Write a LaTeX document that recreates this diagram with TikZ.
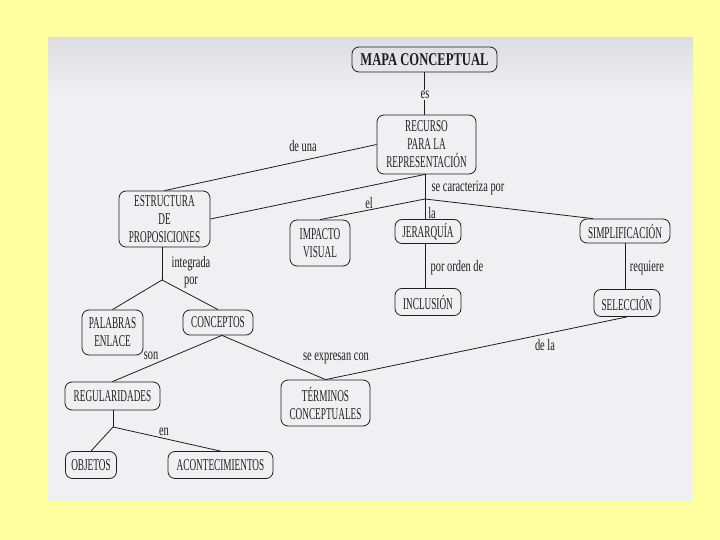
\documentclass[tikz,border=0pt]{standalone}
\usepackage{fontspec}
\setmainfont{Liberation Serif}[FakeStretch=0.56]
\newfontfamily\titlefont{Liberation Serif}[FakeStretch=0.7]
\newfontfamily\lblfont{Liberation Serif}[FakeStretch=0.65]
\usetikzlibrary{calc}
\definecolor{bgyellow}{RGB}{255,255,160}
\definecolor{paper}{RGB}{240,240,243}
\definecolor{papertop}{RGB}{222,222,226}
\definecolor{ink}{RGB}{30,30,30}
\tikzset{
  concept/.style={draw=ink, line width=0.8pt, rounded corners=7pt, align=center,
    inner sep=0pt, font=\fontsize{16.5}{18}\selectfont, text=ink},
  lbl/.style={font=\lblfont\fontsize{16}{17}\selectfont, text=ink, inner sep=1pt, align=center},
  conn/.style={draw=ink, line width=0.8pt},
}
\begin{document}
\begin{tikzpicture}[x=1pt,y=-1pt]
\useasboundingbox (0,0) rectangle (720,540);
\fill[bgyellow] (0,0) rectangle (720,540);
\fill[paper] (48,38) rectangle (693,502);
\shade[top color=papertop, bottom color=paper] (48,38) rectangle (693,95);

% concepts
\node[concept, minimum width=145, minimum height=25, font=\titlefont\fontsize{18}{19}\selectfont\bfseries] (mapa) at (424.5,59.5) {MAPA CONCEPTUAL};
\node[concept, minimum width=99, minimum height=59] (recurso) at (426.5,144.5) {RECURSO\\PARA LA\\REPRESENTACIÓN};
\node[concept, minimum width=91, minimum height=56] (estructura) at (164.5,219) {ESTRUCTURA\\DE\\PROPOSICIONES};
\node[concept, minimum width=60, minimum height=46] (impacto) at (320,243) {IMPACTO\\VISUAL};
\node[concept, minimum width=66, minimum height=24] (jerarquia) at (428,231.5) {JERARQUÍA};
\node[concept, minimum width=66, minimum height=27] (inclusion) at (428,302) {INCLUSIÓN};
\node[concept, minimum width=90, minimum height=24] (simp) at (625,231) {SIMPLIFICACIÓN};
\node[concept, minimum width=66, minimum height=27] (selec) at (627,303) {SELECCIÓN};
\node[concept, minimum width=61, minimum height=45] (palabras) at (112.5,332.5) {PALABRAS\\ENLACE};
\node[concept, minimum width=70, minimum height=25] (conceptos) at (218,322.5) {CONCEPTOS};
\node[concept, minimum width=95, minimum height=28] (regular) at (112.5,396) {REGULARIDADES};
\node[concept, minimum width=89, minimum height=46] (terminos) at (325.5,403) {TÉRMINOS\\CONCEPTUALES};
\node[concept, minimum width=51, minimum height=27] (objetos) at (91,465) {OBJETOS};
\node[concept, minimum width=105, minimum height=27] (acont) at (220.5,465) {ACONTECIMIENTOS};

% junctions
\coordinate (j1) at (425,199);
\coordinate (j2) at (162,280);
\coordinate (j3) at (113,427);
\coordinate (cb) at ([xshift=4pt]conceptos.south);

% connectors
\draw[conn] (mapa.south) -- (mapa.south |- recurso.north);
\draw[conn] (recurso.south -| j1) -- (j1);
\draw[conn] (j1) -- (impacto.north);
\draw[conn] (j1) -- (j1 |- jerarquia.north);
\draw[conn] (j1) -- ([xshift=-32pt]simp.north);
\draw[conn] (jerarquia.south -| j1) -- (inclusion.north -| j1);
\draw[conn] (simp.south) -- (simp.south |- selec.north);
\draw[conn] (estructura.north) -- (recurso.west);
\draw[conn] (estructura.east) -- (recurso.south -| j1);
\draw[conn] (estructura.south -| j2) -- (j2);
\draw[conn] (j2) -- (palabras.north);
\draw[conn] (j2) -- (conceptos.north);
\draw[conn] (cb) -- (regular.north);
\draw[conn] (cb) -- (terminos.north);
\draw[conn] (selec.south) -- (terminos.north);
\draw[conn] (regular.south -| j3) -- (j3);
\draw[conn] (j3) -- (objetos.north);
\draw[conn] (j3) -- (acont.north);

% link labels
\node[lbl, fill=paper] (les) at (425,95) {es};
\node[lbl] (ldeuna) at (303,146) {de una};
\node[lbl] (lcar) at (468,188) {se caracteriza por};
\node[lbl] (lel) at (369,203) {el};
\node[lbl] (lla) at (432,213) {la};
\node[lbl] (lorden) at (457,268) {por orden de};
\node[lbl] (lreq) at (647,268) {requiere};
\node[lbl] (lint) at (191,272) {integrada\\por};
\node[lbl] (lson) at (151,356) {son};
\node[lbl] (lexp) at (336,358) {se expresan con};
\node[lbl] (ldela) at (545,345) {de la};
\node[lbl] (len) at (164,432) {en};
\end{tikzpicture}
\end{document}
